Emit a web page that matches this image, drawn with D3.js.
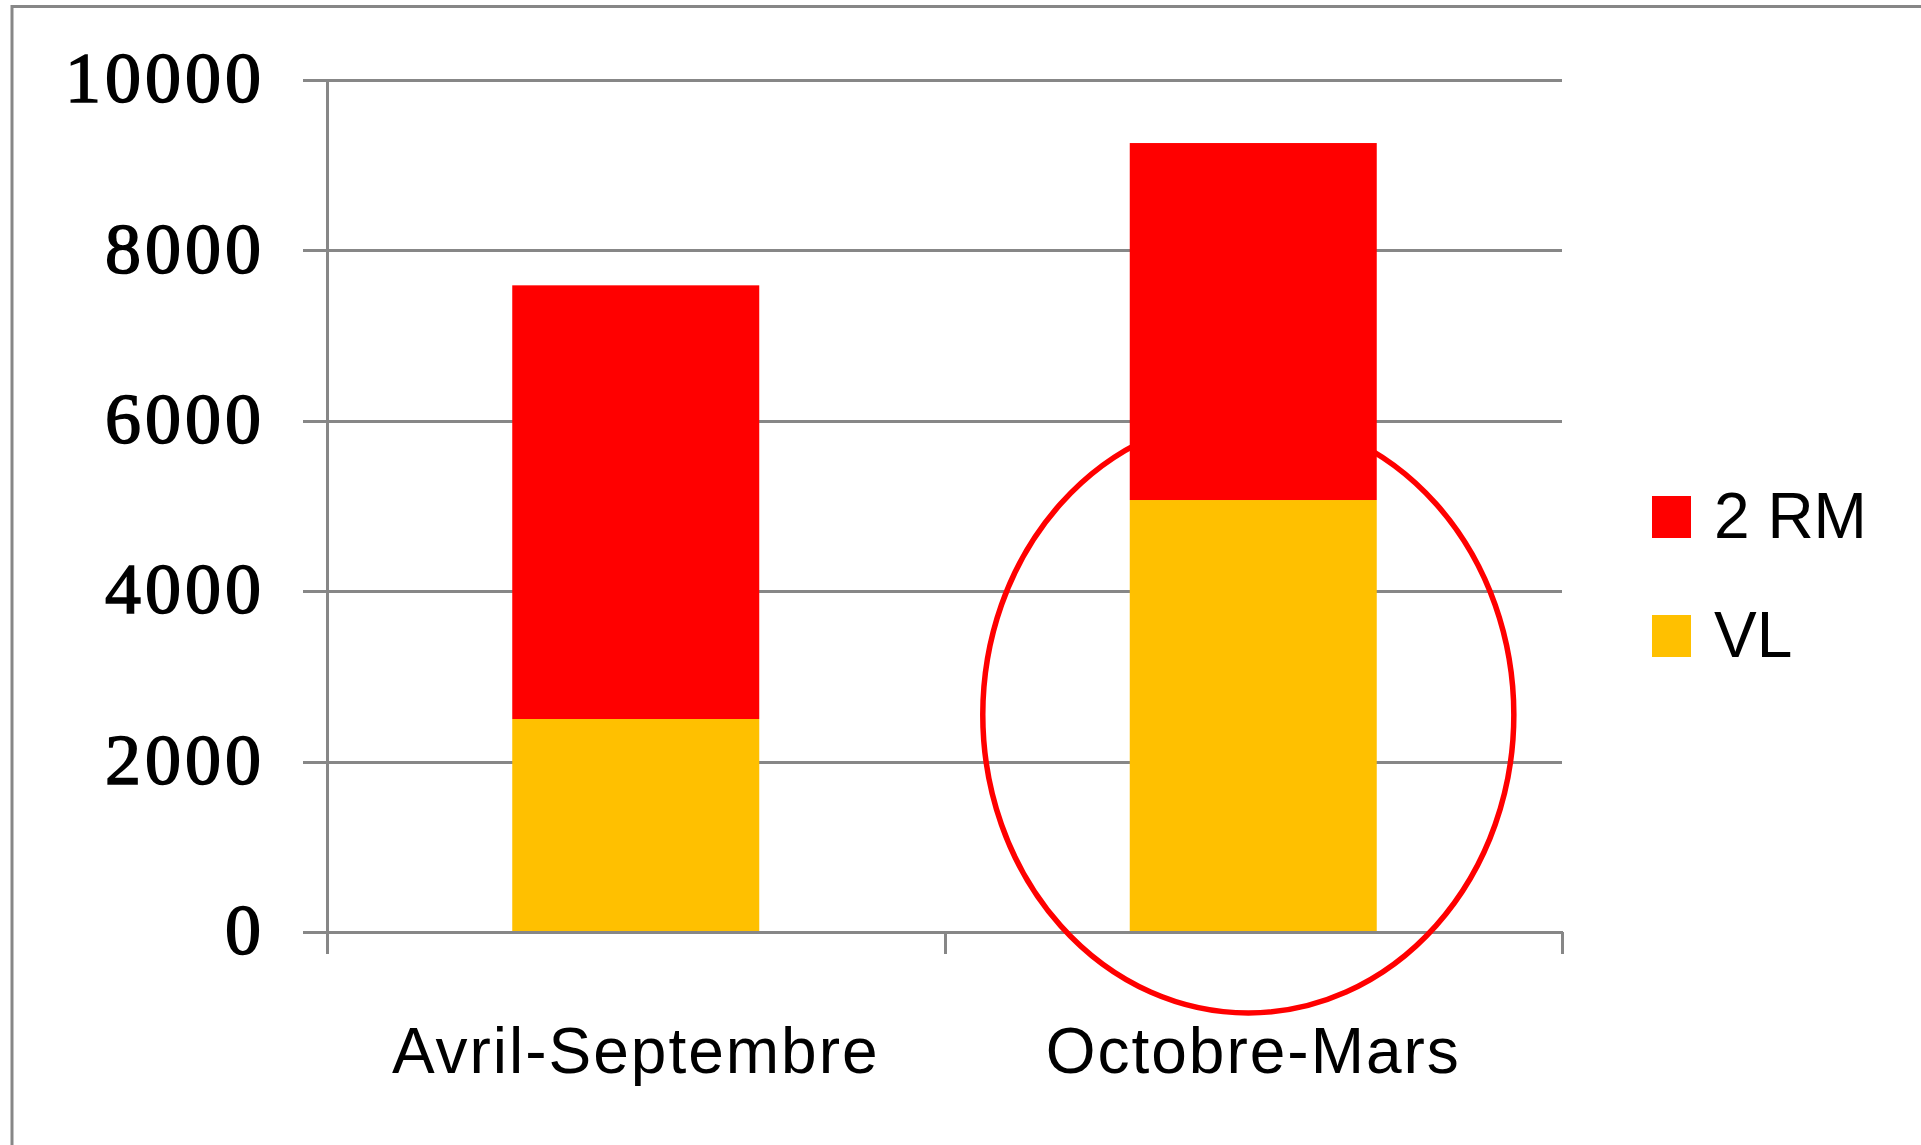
<!DOCTYPE html>
<html>
<head>
<meta charset="utf-8">
<script src="https://cdn.jsdelivr.net/npm/d3@7"></script>
<style>
  body { margin: 0; background: #fff; }
  svg { display: block; }
</style>
</head>
<body>
<svg id="chart" width="1921" height="1145"></svg>
<script>
const categories = ["Avril-Septembre", "Octobre-Mars"];
const seriesNames = ["VL", "2 RM"];
const vlValues = [2500, 5070];
const rmValues = [5090, 4190];
const yTicks = [0, 2000, 4000, 6000, 8000, 10000];
const seriesColors = ["#FFC000", "#FF0000"];
const legendOrder = ["2 RM", "VL"];
// red ellipse drawn round the second period, range in data units
const highlightCategory = "Octobre-Mars";
const highlightRange = [-950, 6050];

const width = 1921, height = 1145;
const plotLeft = 327, plotRight = 1562, plotTop = 80, plotBottom = 932;
const gray = "#878787";

const svg = d3.select("#chart");

// frame of the original picture (left and top edges only visible)
svg.append("path")
  .attr("d", `M12,${height} V6.5 H${width}`)
  .attr("fill", "none")
  .attr("stroke", gray)
  .attr("stroke-width", 3);

const y = d3.scaleLinear().domain([0, 10000]).range([plotBottom, plotTop]);
const x = d3.scaleBand().domain(categories).range([plotLeft, plotRight]).paddingInner(0.6).paddingOuter(0.3);
const xEdge = d3.scaleLinear().domain([0, categories.length]).range([plotLeft, plotRight]);

// gridlines + y labels
const yAxis = d3.axisLeft(y)
  .tickValues(yTicks)
  .tickSize(-(plotRight - plotLeft + 24))
  .tickPadding(38)
  .tickFormat((d) => d);

svg.append("g")
  .attr("transform", `translate(${plotLeft - 24},0)`)
  .call(yAxis)
  .call((g) => g.select(".domain").remove())
  .call((g) => g.selectAll("line").attr("stroke", gray).attr("stroke-width", 3).attr("shape-rendering", "crispEdges"))
  .call((g) =>
    g.selectAll("text")
      .attr("fill", "#000")
      .attr("stroke", "#000")
      .attr("stroke-width", 1.6)
      .attr("font-family", "'Liberation Serif', serif")
      .attr("font-size", 72)
      .attr("letter-spacing", 4)
      .attr("dy", "0.3em"),
  );

// stacked bars
const table = categories.map((c, i) => ({ cat: c, "VL": vlValues[i], "2 RM": rmValues[i] }));
const stacked = d3.stack().keys(seriesNames)(table);

svg.append("g")
  .selectAll("g")
  .data(stacked)
  .enter()
  .append("g")
  .attr("fill", (d, i) => seriesColors[i])
  .selectAll("rect")
  .data((d) => d)
  .enter()
  .append("rect")
  .attr("x", (d) => x(d.data.cat))
  .attr("width", x.bandwidth())
  .attr("y", (d) => y(d[1]))
  .attr("height", (d) => y(d[0]) - y(d[1]));

// y axis line
svg.append("line")
  .attr("x1", plotLeft).attr("x2", plotLeft)
  .attr("y1", plotTop).attr("y2", plotBottom)
  .attr("stroke", gray).attr("stroke-width", 3).attr("shape-rendering", "crispEdges");

// x axis with ticks on category edges
const xAxis = d3.axisBottom(xEdge)
  .tickValues(d3.range(0, categories.length + 1))
  .tickSizeInner(22)
  .tickSizeOuter(0)
  .tickFormat("");

svg.append("g")
  .attr("transform", `translate(0,${plotBottom})`)
  .call(xAxis)
  .call((g) => g.selectAll("line, path").attr("stroke", gray).attr("stroke-width", 3).attr("shape-rendering", "crispEdges"));

svg.append("g")
  .selectAll("text")
  .data(categories)
  .enter()
  .append("text")
  .attr("x", (d) => x(d) + x.bandwidth() / 2)
  .attr("y", plotBottom + 141)
  .attr("text-anchor", "middle")
  .attr("font-family", "'Liberation Sans', sans-serif")
  .attr("font-size", 64)
  .attr("letter-spacing", 2)
  .text((d) => d);

// highlight ellipse
const hx = x(highlightCategory) + x.bandwidth() * 0.48;
svg.append("ellipse")
  .attr("cx", hx)
  .attr("cy", (y(highlightRange[0]) + y(highlightRange[1])) / 2)
  .attr("rx", x.step() * 0.43)
  .attr("ry", (y(highlightRange[0]) - y(highlightRange[1])) / 2)
  .attr("fill", "none")
  .attr("stroke", "#FF0000")
  .attr("stroke-width", 5.5);

// legend
const legend = svg.append("g")
  .selectAll("g")
  .data(legendOrder)
  .enter()
  .append("g")
  .attr("transform", (d, i) => `translate(1652,${496 + i * 119})`);

legend.append("rect")
  .attr("width", 39)
  .attr("height", 42)
  .attr("fill", (d) => seriesColors[seriesNames.indexOf(d)]);

legend.append("text")
  .attr("x", 62)
  .attr("y", 42)
  .attr("font-family", "'Liberation Sans', sans-serif")
  .attr("font-size", 64)
  .text((d) => d);
</script>
</body>
</html>
